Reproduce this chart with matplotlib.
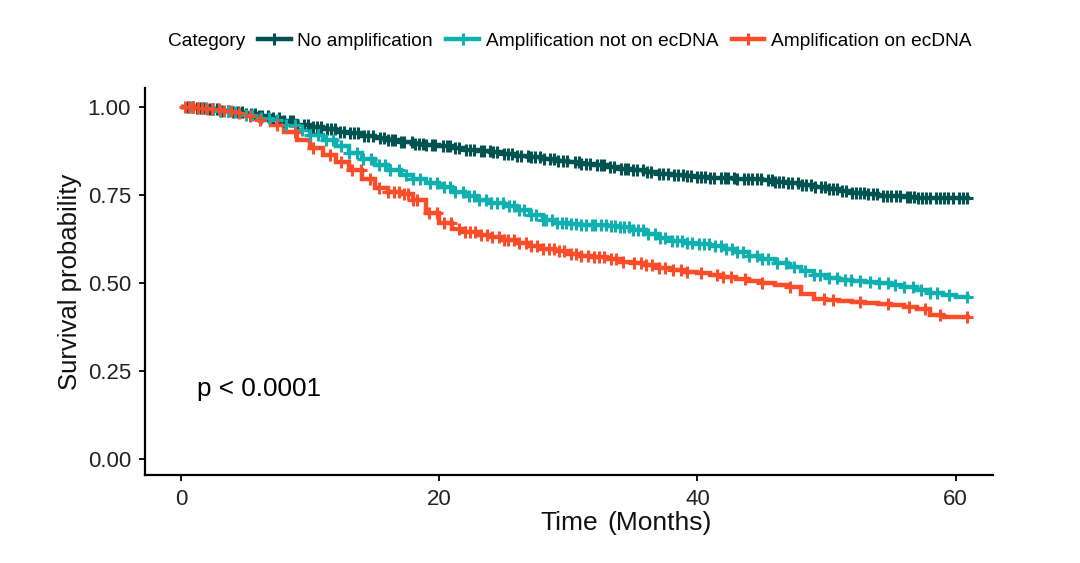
import numpy as np
import matplotlib
matplotlib.use("Agg")
import matplotlib.pyplot as plt
from matplotlib.lines import Line2D

plt.rcParams['font.family'] = ['Liberation Sans', 'DejaVu Sans']

categories = ["No amplification", "Amplification not on ecDNA", "Amplification on ecDNA"]
colors = ["#015352", "#10AFB0", "#FC4C2A"]

months = list(range(0, 62))

surv_none = [1.000, 0.998, 0.995, 0.990, 0.986, 0.980, 0.975, 0.968, 0.960, 0.950,
             0.943, 0.937, 0.930, 0.925, 0.918, 0.912, 0.906, 0.900, 0.896, 0.892,
             0.888, 0.883, 0.879, 0.875, 0.871, 0.866, 0.861, 0.857, 0.852, 0.847,
             0.843, 0.838, 0.834, 0.829, 0.824, 0.820, 0.815, 0.811, 0.806, 0.803,
             0.800, 0.799, 0.798, 0.796, 0.795, 0.792, 0.788, 0.784, 0.778, 0.772,
             0.766, 0.762, 0.757, 0.752, 0.748, 0.746, 0.744, 0.743, 0.742, 0.741,
             0.741, 0.741]

surv_not_ec = [1.000, 0.998, 0.995, 0.990, 0.985, 0.978, 0.970, 0.962, 0.950, 0.935,
               0.920, 0.905, 0.888, 0.870, 0.852, 0.836, 0.820, 0.806, 0.795, 0.784,
               0.772, 0.760, 0.748, 0.737, 0.727, 0.718, 0.707, 0.694, 0.680, 0.670,
               0.667, 0.666, 0.665, 0.662, 0.658, 0.652, 0.640, 0.628, 0.620, 0.614,
               0.610, 0.605, 0.596, 0.588, 0.578, 0.568, 0.556, 0.546, 0.534, 0.522,
               0.514, 0.510, 0.506, 0.503, 0.500, 0.494, 0.488, 0.480, 0.472, 0.466,
               0.461, 0.461]

surv_ec = [1.000, 0.997, 0.994, 0.990, 0.983, 0.975, 0.962, 0.948, 0.930, 0.905,
           0.885, 0.865, 0.845, 0.822, 0.795, 0.770, 0.760, 0.752, 0.735, 0.700,
           0.672, 0.655, 0.645, 0.637, 0.630, 0.622, 0.614, 0.605, 0.597, 0.590,
           0.584, 0.578, 0.574, 0.568, 0.560, 0.556, 0.550, 0.544, 0.538, 0.532,
           0.528, 0.522, 0.517, 0.512, 0.506, 0.500, 0.494, 0.488, 0.470, 0.456,
           0.452, 0.450, 0.446, 0.443, 0.440, 0.437, 0.432, 0.425, 0.410, 0.405,
           0.403, 0.403]

end_time = [61.1, 61.1, 61.1]

cens_none = [0.5, 0.9, 1.2, 1.5, 1.8, 2.2, 2.5, 2.8, 3.1, 3.6, 4.0, 4.4, 4.7, 5.0, 5.4,
             5.7, 6.0, 6.3, 6.7, 7.1, 7.6, 8.0, 8.4, 8.7, 9.0, 9.5, 9.8, 10.2, 10.5,
             10.8, 11.3, 11.6, 11.9, 12.3, 12.6, 13.1, 13.4, 13.7, 14.2, 14.5, 14.9,
             15.4, 15.7, 16.0, 16.3, 16.6, 17.0, 17.3, 17.9, 18.1, 18.4, 18.7, 19.0,
             19.4, 19.7, 20.3, 20.6, 20.8, 21.2, 21.5, 22.1, 22.4, 22.7, 23.2, 23.5,
             23.9, 24.2, 24.5, 25.0, 25.3, 25.6, 26.0, 26.3, 26.9, 27.1, 27.4, 27.8,
             28.1, 28.6, 28.9, 29.2, 29.6, 29.9, 30.5, 30.8, 31.0, 31.4, 31.7, 32.2,
             32.5, 32.8, 33.2, 33.5, 34.1, 34.4, 34.6, 35.0, 35.3, 35.8, 36.1, 36.4,
             37.0, 37.3, 37.7, 38.2, 38.5, 38.9, 39.2, 39.5, 40.0, 40.3, 40.6, 41.0,
             41.3, 41.8, 42.1, 42.4, 42.8, 43.1, 43.6, 43.9, 44.2, 44.6, 44.9, 45.5,
             45.8, 46.0, 46.3, 46.6, 47.0, 47.3, 47.8, 48.1, 48.4, 48.8, 49.1, 49.6,
             49.9, 50.2, 50.5, 50.8, 51.2, 51.5, 52.0, 52.3, 52.6, 52.9, 53.2, 53.6,
             53.9, 54.4, 54.7, 55.0, 55.4, 55.7, 56.2, 56.5, 56.8, 57.1, 57.4, 57.7,
             58.0, 58.5, 58.8, 59.1, 59.4, 59.8, 60.3, 60.6, 60.9]

cens_not_ec = [0.8, 1.9, 2.5, 3.0, 3.6, 4.2, 5.0, 5.5, 6.2, 6.8, 7.4, 8.1, 8.8, 9.4,
               10.0, 10.6, 11.2, 11.8, 12.4, 13.0, 13.6, 14.1, 14.7, 15.3, 15.8, 16.2,
               16.9, 17.4, 18.0, 18.5, 19.3, 19.8, 20.4, 20.8, 21.2, 21.8, 22.3, 22.7,
               23.1, 23.6, 24.0, 24.5, 24.9, 25.4, 25.8, 26.2, 26.6, 27.1, 27.5, 28.0,
               28.3, 28.7, 29.1, 29.5, 29.8, 30.2, 30.6, 31.0, 31.4, 31.8, 32.1, 32.5,
               32.9, 33.3, 33.6, 34.0, 34.3, 34.7, 35.0, 35.4, 35.8, 36.2, 36.7, 37.1,
               37.5, 38.0, 38.4, 38.8, 39.2, 39.6, 40.1, 40.5, 40.9, 41.4, 41.8, 42.2,
               42.7, 43.1, 43.5, 44.0, 44.6, 45.0, 45.5, 46.2, 46.9, 47.5, 48.3, 49.0,
               49.5, 50.2, 50.8, 51.4, 51.9, 52.6, 53.4, 54.1, 54.8, 55.3, 56.0, 56.7,
               57.3, 58.0, 58.6, 59.5, 60.9]

cens_ec = [0.3, 0.6, 0.9, 1.3, 1.6, 2.0, 2.4, 2.9, 3.3, 3.9, 4.5, 5.3, 6.1, 7.4, 8.8,
           10.2, 11.5, 12.4, 13.2, 13.9, 14.6, 15.3, 16.0, 16.5, 16.9, 17.3, 17.6,
           18.0, 18.3, 19.2, 19.8, 20.4, 20.9, 21.5, 22.0, 22.4, 22.8, 23.2, 23.7,
           24.1, 24.6, 25.0, 25.3, 25.8, 26.2, 26.7, 27.1, 27.6, 28.0, 28.5, 28.9,
           29.3, 29.7, 30.2, 30.6, 31.0, 31.5, 32.0, 32.4, 32.8, 33.3, 33.7, 34.2,
           35.1, 35.6, 36.0, 36.5, 37.0, 37.5, 38.1, 38.7, 39.2, 40.3, 41.5, 42.0,
           42.6, 43.7, 45.0, 47.2, 49.8, 50.5, 52.6, 54.8, 56.4, 57.6, 58.8, 60.9]

x_ticks = [0, 20, 40, 60]
y_ticks = [0.00, 0.25, 0.50, 0.75, 1.00]
y_ticklabels = ["0.00", "0.25", "0.50", "0.75", "1.00"]
p_text = "p < 0.0001"

fig = plt.figure(figsize=(10.8, 5.63), dpi=100)
ax = fig.add_axes([145/1080, 1-475/563, (993-145)/1080, (475-88)/563])

LW = 3.2
survs = [surv_none, surv_not_ec, surv_ec]
censs = [cens_none, cens_not_ec, cens_ec]
for cat, col, s, c, te in zip(categories, colors, survs, censs, end_time):
    t = np.array(months + [te], dtype=float)
    sv = np.array(s + [s[-1]], dtype=float)
    ax.plot(t, sv, drawstyle='steps-post', color=col, lw=LW, solid_capstyle='butt',
            solid_joinstyle='miter', zorder=2)
    c = np.array(c)
    idx = np.searchsorted(np.array(months, dtype=float), c, side='right') - 1
    cy = np.array(s)[idx]
    ax.plot(c, cy, linestyle='none', marker='+', color=col, markersize=9,
            markeredgewidth=2.2, zorder=3)

ax.set_xlim(-2.8, 62.9)
ax.set_ylim(-0.045, 1.054)
ax.set_xticks(x_ticks)
ax.set_yticks(y_ticks)
ax.set_yticklabels(y_ticklabels)
for sp in ['top', 'right']:
    ax.spines[sp].set_visible(False)
for sp in ['left', 'bottom']:
    ax.spines[sp].set_linewidth(1.6)
    ax.spines[sp].set_color('black')
ax.tick_params(axis='both', length=4, width=1.3, color='black', labelsize=16,
               labelcolor='#222222', pad=6)

ax.set_ylabel("Survival probability", fontsize=18.5, color='#111111', labelpad=4)
ax.text((598-145)/848, -0.125, "Time", transform=ax.transAxes, ha='right', va='center',
        fontsize=19, color='#111111')
ax.text((607-145)/848, -0.125, "(Months)", transform=ax.transAxes, ha='left', va='center',
        fontsize=19, color='#111111')

ax.text(1.2, 0.2, p_text, fontsize=18.8, ha='left', va='center', color='black')

handles = [Line2D([0], [0], color=col, lw=LW, marker='+', markersize=9,
                  markeredgewidth=2.2) for col in colors]
fig.legend(handles, categories, loc='center left', bbox_to_anchor=(258/1080, 1-41/563),
           ncol=3, frameon=False, fontsize=13.8, handlelength=1.7, handletextpad=0.35,
           columnspacing=0.7, numpoints=1, borderaxespad=0, borderpad=0)
fig.text(168/1080, 1-41/563, "Category", fontsize=13.8, ha='left', va='center')

fig.savefig("out.png", dpi=100, facecolor='white')
